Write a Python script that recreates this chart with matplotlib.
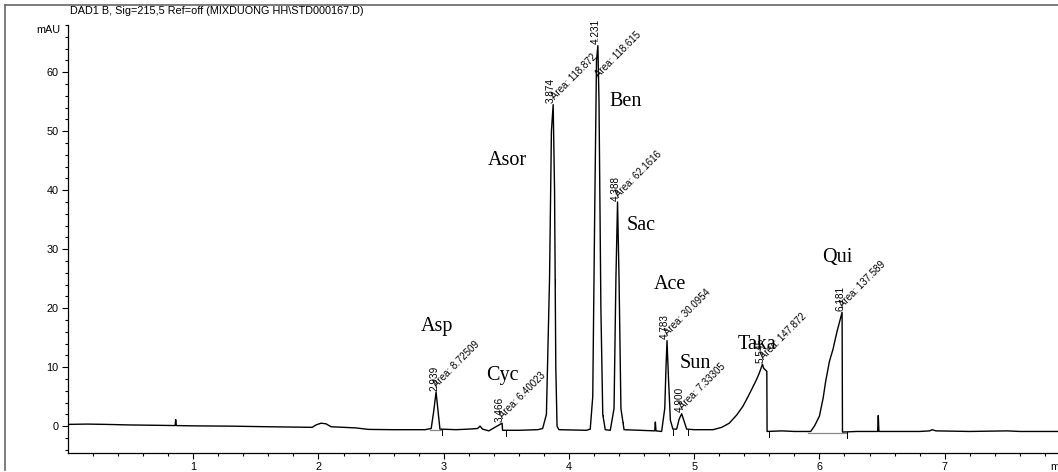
"""
DAD1 B chromatogram of the sweetener / preservative standard mix.
"""

import numpy as np
import matplotlib
matplotlib.use('Agg')
import matplotlib.pyplot as plt
from matplotlib.lines import Line2D
from matplotlib.ticker import FixedLocator, MultipleLocator

plt.rcParams['font.family'] = ['Liberation Sans', 'DejaVu Sans']

# trace vertices (min, mAU)
time = [0.00, 0.15, 0.30, 0.50, 0.70, 0.855, 0.860, 0.865, 1.00, 1.30, 1.60, 1.95,
        1.98, 2.02, 2.06, 2.10, 2.30, 2.40, 2.60, 2.85, 2.90, 2.920, 2.939, 2.955,
        2.97, 3.10, 3.20, 3.27, 3.29, 3.31, 3.36, 3.466, 3.470, 3.60, 3.75, 3.79,
        3.82, 3.845, 3.860, 3.874, 3.885, 3.895, 3.905, 3.92, 4.14, 4.17, 4.19,
        4.205, 4.220, 4.231, 4.240, 4.255, 4.27, 4.29, 4.33, 4.36, 4.375, 4.388,
        4.400, 4.415, 4.44, 4.685, 4.690, 4.695, 4.74, 4.765, 4.775, 4.783, 4.795,
        4.81, 4.83, 4.86, 4.88, 4.90, 4.92, 4.94, 5.00, 5.10, 5.15, 5.22, 5.28,
        5.34, 5.39, 5.43, 5.47, 5.50, 5.52, 5.545, 5.555, 5.565, 5.580, 5.582,
        5.70, 5.80, 5.93, 5.96, 6.00, 6.03, 6.05, 6.08, 6.108, 6.14, 6.181, 6.184,
        6.30, 6.465, 6.470, 6.475, 6.80, 6.88, 6.90, 6.93, 7.20, 7.50, 7.60, 7.905]
signal = [0.30, 0.35, 0.30, 0.20, 0.15, 0.10, 1.10, 0.10, 0.05, 0.00, -0.10, -0.20,
          0.20, 0.50, 0.40, -0.10, -0.30, -0.55, -0.60, -0.60, -0.40, 2.50, 5.80, 2.50,
          -0.50, -0.60, -0.50, -0.40, 0.00, -0.50, -0.80, 0.50, -0.70, -0.70, -0.60, -0.40,
          2.0, 25.0, 50.0, 54.5, 40.0, 10.0, 0.0, -0.60, -0.70, -0.50, 5.0,
          35.0, 62.0, 64.5, 55.0, 20.0, 2.0, -0.60, -0.70, 3.0, 25.0, 38.0,
          25.0, 3.0, -0.60, -0.80, 0.70, -0.80, -0.90, 3.0, 10.0, 14.5, 8.0,
          1.0, -0.50, -0.50, 1.20, 2.10, 0.80, -0.50, -0.60, -0.60, -0.60, -0.20, 0.50,
          1.90, 3.40, 5.00, 6.70, 8.00, 9.00, 10.5, 9.80, 9.60, 9.30, -0.90,
          -0.80, -0.90, -0.90, 0.00, 1.70, 4.80, 7.60, 11.0, 13.0, 16.0, 19.3, -1.00,
          -0.90, -0.90, 1.80, -0.90, -0.90, -0.80, -0.60, -0.80, -0.90, -0.80, -0.90, -0.90]

# peak annotations
peak_names = ['Asp', 'Cyc', 'Asor', 'Ben', 'Sac', 'Ace', 'Sun', 'Taka', 'Qui']
name_x = [2.95, 3.47, 3.51, 4.45, 4.58, 4.81, 5.01, 5.50, 6.14]
name_y = [16.9, 8.6, 45.0, 55.0, 34.0, 24.0, 10.6, 13.8, 28.6]
peak_rt = [2.939, 3.466, 3.874, 4.231, 4.388, 4.783, 4.900, 5.545, 6.181]
rt_labels = ['2.939', '3.466', '3.874', '4.231', '4.388', '4.783', '4.900', '5.545', '6.181']
area_labels = ['8.72509', '6.40023', '118.872', '118.615', '62.1616', '30.0954',
               '7.33305', '147.872', '137.589']

# integration event marks and drawn baselines
event_marks = [2.99, 3.50, 3.89, 4.27, 4.43, 4.83, 4.95, 5.60, 6.22]
base_start = [2.89, 5.91]
base_end = [2.99, 6.22]
base_level = [-0.7, -1.15]

TITLE = 'DAD1 B, Sig=215,5 Ref=off (MIXDUONG HH\\STD000167.D)'
W, H = 1058, 472


def draw():
    fig = plt.figure(figsize=(W / 100, H / 100), dpi=100)
    ax = fig.add_axes([68 / W, 19.3 / H, 990 / W, 427.7 / H])

    ax.plot(time, signal, color='black', lw=1.0, zorder=3)

    # integration baselines (gray) + event ticks
    for t0, t1, lv in zip(base_start, base_end, base_level):
        ax.plot([t0, t1], [lv, lv], color='#888888', lw=0.9, zorder=2)
    for t in event_marks:
        b = np.interp(t, time, signal)
        ax.plot([t, t], [b - 0.1, b - 1.0], color='black', lw=0.7, zorder=2)

    # retention time / area labels
    for name, rt, rtl, area in zip(peak_names, peak_rt, rt_labels, area_labels):
        h = np.interp(rt, time, signal)
        ax.annotate(rtl, (rt, h), xytext=(-1.5, 1), textcoords='offset points',
                    rotation=90, ha='center', va='bottom', fontsize=7.2)
        dy = -24 if name == 'Ben' else 2
        ax.annotate(f'Area: {area}', (rt, h), xytext=(2, dy), textcoords='offset points',
                    rotation=45, ha='left', va='bottom', rotation_mode='anchor',
                    fontsize=7.0)

    for name, x, y in zip(peak_names, name_x, name_y):
        ax.text(x, y, name, ha='center', va='center', fontsize=14.5,
                family=['Liberation Serif', 'DejaVu Serif'])

    ax.set_xlim(0, 7.905)
    ax.set_ylim(-4.5, 68)
    ax.xaxis.set_major_locator(FixedLocator(range(1, 8)))
    ax.xaxis.set_minor_locator(FixedLocator(np.arange(0.2, 7.9, 0.2)))
    ax.yaxis.set_major_locator(FixedLocator(range(0, 61, 10)))
    ax.yaxis.set_minor_locator(MultipleLocator(2))
    ax.tick_params(which='major', direction='out', length=4.6, width=0.8,
                   labelsize=7.8, pad=2.2)
    ax.tick_params(which='minor', direction='out', length=2.4, width=0.8)
    for s in ['top', 'right']:
        ax.spines[s].set_visible(False)
    for s in ['left', 'bottom']:
        ax.spines[s].set_linewidth(0.9)

    # units
    ax.text(-8 / 990, 68, 'mAU', transform=ax.get_yaxis_transform(),
            ha='right', va='top', fontsize=7.8)
    fig.text(1050 / W, 1 - 467 / H, 'min', ha='left', va='center', fontsize=7.8)

    # title and outer frame
    fig.text(70 / W, 1 - 11 / H, TITLE, ha='left', va='center', fontsize=7.8)
    fig.add_artist(Line2D([4.5 / W, 4.5 / W], [1 - 5 / H, 1 - 470 / H],
                          transform=fig.transFigure, color='#666666', lw=1.2))
    fig.add_artist(Line2D([4.5 / W, 1.0], [1 - 5 / H, 1 - 5 / H],
                          transform=fig.transFigure, color='#666666', lw=1.2))

    fig.savefig('out.png', dpi=100)


if __name__ == '__main__':
    draw()
